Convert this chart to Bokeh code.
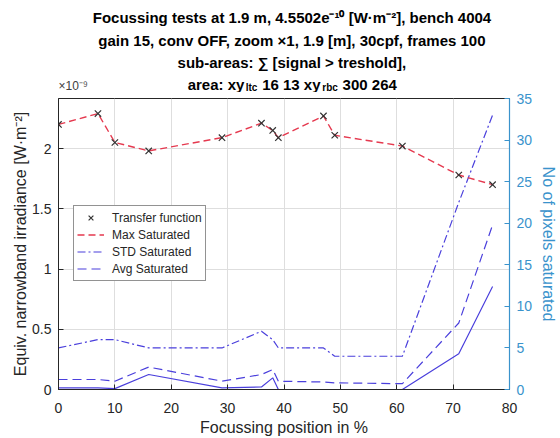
from bokeh.plotting import figure
from bokeh.models import (Range1d, LinearAxis, FixedTicker, Legend, LegendItem,
                          NumeralTickFormatter)
from bokeh.layouts import column
from bokeh.core.properties import value
from bokeh.embed import file_html
from bokeh.resources import INLINE

# ---------------- data ----------------
focus_pos = [0, 7, 10, 16, 29, 36, 38, 39, 47, 49, 61, 71, 77]
# left axis, units of 1e-9 W·m^-2
transfer_fn = [2.20, 2.29, 2.05, 1.98, 2.09, 2.21, 2.15, 2.09, 2.27, 2.11, 2.02, 1.78, 1.70]
max_sat = [2.20, 2.29, 2.05, 1.98, 2.09, 2.21, 2.15, 2.09, 2.27, 2.11, 2.02, 1.78, 1.70]
# right axis, number of pixels
std_sat = [5.0, 6.0, 6.0, 5.0, 5.0, 7.0, 6.0, 5.0, 5.0, 4.0, 4.0, 22.5, 33.0]
avg_sat = [1.2, 1.2, 1.0, 2.7, 1.0, 1.8, 2.4, 1.0, 0.9, 0.8, 0.7, 8.0, 19.8]
min_sat = [0.2, 0.2, 0.1, 1.8, 0.2, 0.3, 1.4, 0.0, 0.0, 0.0, 0.0, 4.3, 12.4]

x_ticks = [0, 10, 20, 30, 40, 50, 60, 70, 80]
left_ticks = [0, 0.5, 1, 1.5, 2]
right_ticks = [0, 5, 10, 15, 20, 25, 30, 35]

title_lines = [
    "Focussing tests at 1.9 m, 4.5502e\u207b\u00b9\u2070 [W\u00b7m\u207b\u00b2], bench 4004",
    "gain 15, conv OFF, zoom \u00d71, 1.9 [m], 30cpf, frames 100",
    "sub-areas: \u2211 [signal > treshold],",
]
area_parts = ["area: xy", "ltc", "16 13 xy", "rbc", "300 264"]
area_sub = [False, True, False, True, False]
exponent_text = "\u00d710\u207b\u2079"

FONT = "Liberation Sans"
RED = "#e5394f"
BLUE = "#4a3fdc"
RBLUE = "#3a93cc"
TXT = "#262626"

# ---------------- title panel (its frame is aligned with the main frame: page x 58..512) ----------------
TH = 92
t = figure(width=560, height=TH, output_backend="svg", toolbar_location=None,
           x_range=Range1d(58, 512), y_range=Range1d(TH, 0),
           x_axis_location=None, y_axis_location=None,
           min_border=0, outline_line_color=None)
t.grid.visible = False
t.text(x=[293, 293, 293], y=[17, 40, 62], text=title_lines,
       text_font=value(FONT), text_font_size="15px", text_font_style="bold",
       text_color="black", text_align="center", text_baseline="middle")

area_x = [188, 246.5, 263, 323.5, 344]
for xx, tx, sub in zip(area_x, area_parts, area_sub):
    t.text(x=[xx], y=[86.5 if sub else 83.5], text=[tx], text_font=value(FONT),
           text_font_size=("10px" if sub else "15px"), text_font_style="bold",
           text_color="black", text_align="left", text_baseline="middle")

t.text(x=[58], y=[85], text=[exponent_text], text_font=value(FONT), text_font_size="12px",
       text_color="#404040", text_align="left", text_baseline="middle")

# ---------------- main plot ----------------
p = figure(width=560, height=438 - TH, output_backend="svg", toolbar_location=None,
           x_range=Range1d(0, 80), y_range=Range1d(0, 2.415),
           min_border_left=58, min_border_right=48, min_border_top=98 - TH, min_border_bottom=45)
p.extra_y_ranges = {"right": Range1d(0, 35)}
p.outline_line_color = TXT
p.outline_line_width = 1
p.background_fill_color = "white"

for g in (p.xgrid, p.ygrid):
    g.grid_line_color = "#dedede"
    g.grid_line_width = 1

xa = p.xaxis[0]
xa.ticker = FixedTicker(ticks=x_ticks)
ya = p.yaxis[0]
ya.ticker = FixedTicker(ticks=left_ticks)
ya.formatter = NumeralTickFormatter(format="0.[0]")
p.xgrid.ticker = FixedTicker(ticks=x_ticks)
p.ygrid.ticker = FixedTicker(ticks=left_ticks)

ra = LinearAxis(y_range_name="right", ticker=FixedTicker(ticks=right_ticks))
p.add_layout(ra, "right")

for ax in (xa, ya, ra):
    ax.major_tick_in = 5
    ax.major_tick_out = 0
    ax.minor_tick_in = 0
    ax.minor_tick_out = 0
    ax.major_label_text_font = FONT
    ax.major_label_text_font_size = "14px"
    ax.axis_label_text_font = FONT
    ax.axis_label_text_font_style = "normal"
    ax.axis_label_text_font_size = "16px"

for ax in (xa, ya):
    ax.axis_line_color = TXT
    ax.major_tick_line_color = TXT
    ax.major_label_text_color = TXT
    ax.axis_label_text_color = TXT

ra.axis_line_color = RBLUE
ra.major_tick_line_color = RBLUE
ra.major_label_text_color = RBLUE
ra.axis_label_text_color = RBLUE
ra.axis_line_width = 1.2

xa.axis_label = "Focussing position in %"
xa.major_label_standoff = 13
xa.axis_label_standoff = 3
ya.axis_label = "Equiv. narrowband irradiance [W\u00b7m\u207b\u00b2]"
ya.major_label_standoff = 7
ya.axis_label_standoff = 0
ra.axis_label = "No of pixels saturated"
ra.major_label_standoff = 7
ra.axis_label_standoff = 5

r_std = p.line(focus_pos, std_sat, y_range_name="right", line_color=BLUE, line_width=1.2,
               line_dash="8 3 2 3")
r_avg = p.line(focus_pos, avg_sat, y_range_name="right", line_color=BLUE, line_width=1.2,
               line_dash="9 5")
r_min = p.line(focus_pos, min_sat, y_range_name="right", line_color=BLUE, line_width=1.2)
r_max = p.line(focus_pos, max_sat, line_color=RED, line_width=1.4, line_dash="7 4")
r_tf = p.scatter(focus_pos, transfer_fn, marker="x", size=9, line_color="#333333", line_width=1.2)

legend = Legend(items=[
    LegendItem(label="Transfer function", renderers=[r_tf]),
    LegendItem(label="Max Saturated", renderers=[r_max]),
    LegendItem(label="STD Saturated", renderers=[r_std]),
    LegendItem(label="Avg Saturated", renderers=[r_avg]),
], location=(15, 108))
legend.label_text_font = FONT
legend.label_text_font_size = "12px"
legend.label_text_color = TXT
legend.padding = 3
legend.spacing = 0
legend.margin = 0
legend.label_height = 17
legend.glyph_height = 17
legend.glyph_width = 27
legend.label_standoff = 8
legend.border_line_color = TXT
legend.border_line_width = 1
legend.background_fill_color = "white"
legend.background_fill_alpha = 1
p.add_layout(legend, "center")

layout = column(t, p, spacing=0)
open("out.html", "w").write(file_html(layout, INLINE))
